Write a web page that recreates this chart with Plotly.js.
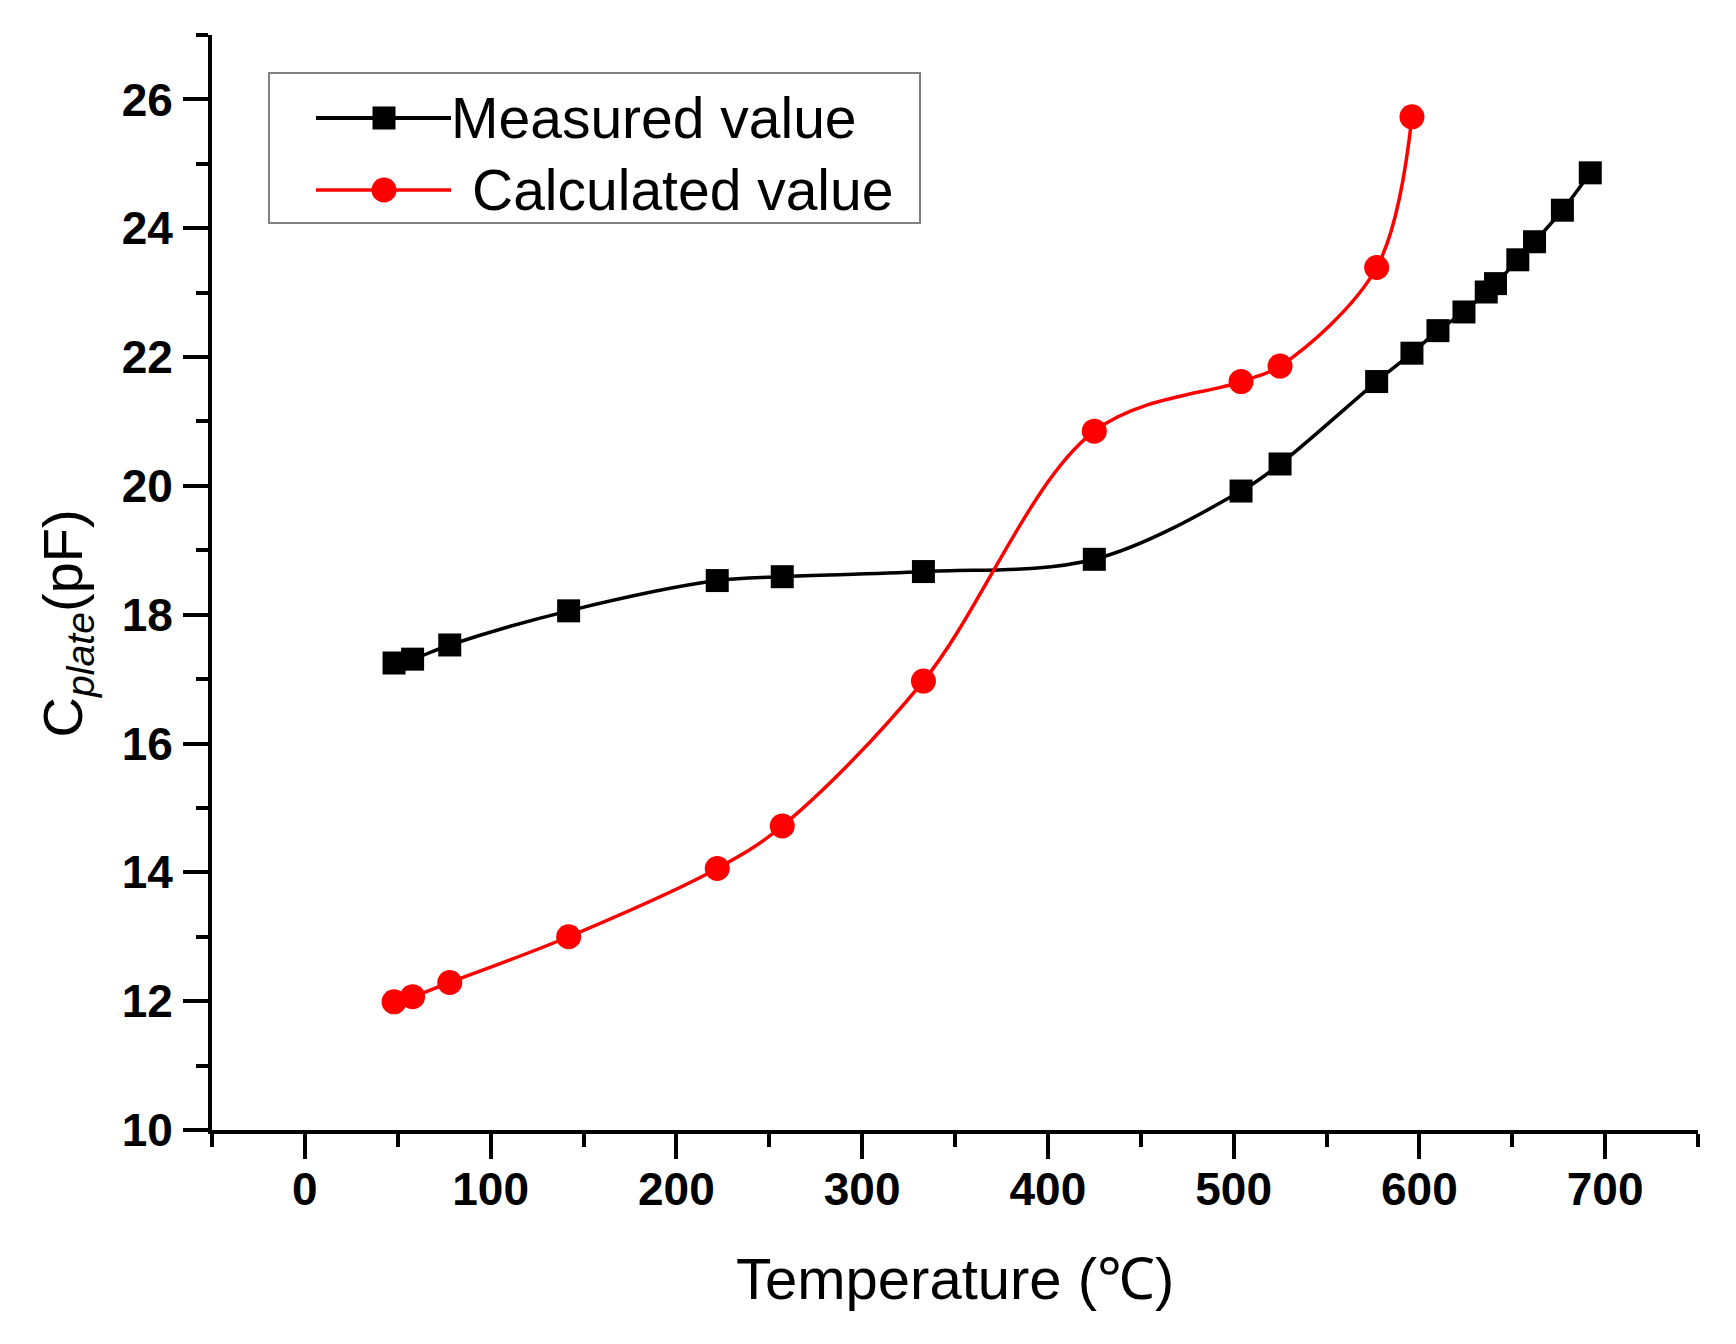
<!DOCTYPE html>
<html>
<head>
<meta charset="utf-8">
<script src="https://cdn.plot.ly/plotly-3.0.1.min.js"></script>
<style>
  html, body { margin: 0; padding: 0; background: #ffffff; }
  #plot { width: 1736px; height: 1344px; }
</style>
</head>
<body>
<div id="plot"></div>
<script>
// Plate capacitance vs temperature: measured and calculated curves.

const measuredTemp = [48, 58, 78, 142, 222, 257, 333, 425, 504, 525, 577, 596, 610, 624, 636, 641, 653, 662, 677, 692];
const measuredCap  = [17.25, 17.31, 17.53, 18.06, 18.53, 18.59, 18.67, 18.86, 19.92, 20.34, 21.62, 22.06, 22.41, 22.70, 23.01, 23.14, 23.51, 23.79, 24.28, 24.86];

const calcTemp = [48, 58, 78, 142, 222, 257, 333, 425, 504, 525, 577, 596];
const calcCap  = [11.99, 12.07, 12.29, 13.00, 14.06, 14.72, 16.97, 20.85, 21.62, 21.86, 23.39, 25.73];

const seriesNames = ['Measured value', 'Calculated value'];
const seriesColors = ['#000000', '#ff0000'];
const xTitle = 'Temperature (\u2103)';
const yTitle = 'C<sub><i>plate</i></sub>(pF)';

const FONT = 'Liberation Sans, Arial, Helvetica, sans-serif';

// plot box in page pixels, used to place the hand-drawn legend
const W = 1736, H = 1344;
const M = { l: 212, r: 38, t: 35, b: 214 };
const pw = W - M.l - M.r, ph = H - M.t - M.b;
const px = x => (x - M.l) / pw;
const py = y => (H - M.b - y) / ph;

const traces = [{
    x: measuredTemp, y: measuredCap,
    type: 'scatter', mode: 'lines+markers',
    name: seriesNames[0],
    line: { color: seriesColors[0], width: 3.5, shape: 'spline', smoothing: 1 },
    marker: { symbol: 'square', size: 23, color: seriesColors[0] }
}, {
    x: calcTemp, y: calcCap,
    type: 'scatter', mode: 'lines+markers',
    name: seriesNames[1],
    line: { color: seriesColors[1], width: 3.5, shape: 'spline', smoothing: 1 },
    marker: { symbol: 'circle', size: 25, color: seriesColors[1] }
}];

// Origin-style legend: big symbols on long lines, so drawn with shapes
const legRows = [118, 190];
const legShapes = [{
    type: 'rect', xref: 'paper', yref: 'paper', layer: 'below',
    x0: px(269), x1: px(920), y0: py(223), y1: py(73),
    line: { color: '#808080', width: 2 }, fillcolor: '#ffffff'
}];
legRows.forEach((ry, i) => {
    legShapes.push({
        type: 'line', xref: 'paper', yref: 'paper',
        x0: px(316), x1: px(451), y0: py(ry), y1: py(ry),
        line: { color: seriesColors[i], width: i === 0 ? 4 : 3.5 }
    });
    const r = i === 0 ? 11.5 : 12.5;
    legShapes.push({
        type: i === 0 ? 'rect' : 'circle', xref: 'paper', yref: 'paper',
        x0: px(384 - r), x1: px(384 + r), y0: py(ry + r), y1: py(ry - r),
        line: { width: 0 }, fillcolor: seriesColors[i]
    });
});
const legLabels = seriesNames.map((name, i) => ({
    text: name, xref: 'paper', yref: 'paper',
    x: px(i === 0 ? 449 : 470), y: py(legRows[i]),
    xanchor: 'left', yanchor: 'middle', showarrow: false,
    font: { family: FONT, size: 57, color: '#000000' }
}));

const axisCommon = {
    showgrid: false, zeroline: false,
    showline: true, linecolor: '#000000', linewidth: 4,
    ticks: 'outside', tickcolor: '#000000', tickwidth: 4, ticklen: 25,
    tickfont: { family: FONT, size: 46, color: '#000000', weight: 'bold' },
};

const layout = {
    width: W, height: H,
    margin: M,
    paper_bgcolor: '#ffffff', plot_bgcolor: '#ffffff',
    font: { family: FONT, color: '#000000' },
    showlegend: false,
    xaxis: Object.assign({}, axisCommon, {
        range: [-50, 750], tick0: 0, dtick: 100, ticklabelstandoff: -9,
        minor: { dtick: 50, ticks: 'outside', ticklen: 13, tickwidth: 4, tickcolor: '#000000', showgrid: false }
    }),
    yaxis: Object.assign({}, axisCommon, {
        range: [10, 27], tick0: 10, dtick: 2, ticklabelstandoff: 1,
        minor: { dtick: 1, ticks: 'outside', ticklen: 12, tickwidth: 4, tickcolor: '#000000', showgrid: false }
    }),
    shapes: legShapes,
    annotations: [{
        text: xTitle, xref: 'paper', yref: 'paper', x: 0.5, y: -0.136,
        xanchor: 'center', yanchor: 'middle', showarrow: false,
        font: { family: FONT, size: 58, color: '#000000' }
    }, {
        text: yTitle, xref: 'paper', yref: 'paper', x: -0.098, y: 0.463,
        xanchor: 'center', yanchor: 'middle', showarrow: false, textangle: -90,
        font: { family: FONT, size: 56, color: '#000000' }
    }].concat(legLabels)
};

Plotly.newPlot('plot', traces, layout, { displayModeBar: false, staticPlot: true });
</script>
</body>
</html>
